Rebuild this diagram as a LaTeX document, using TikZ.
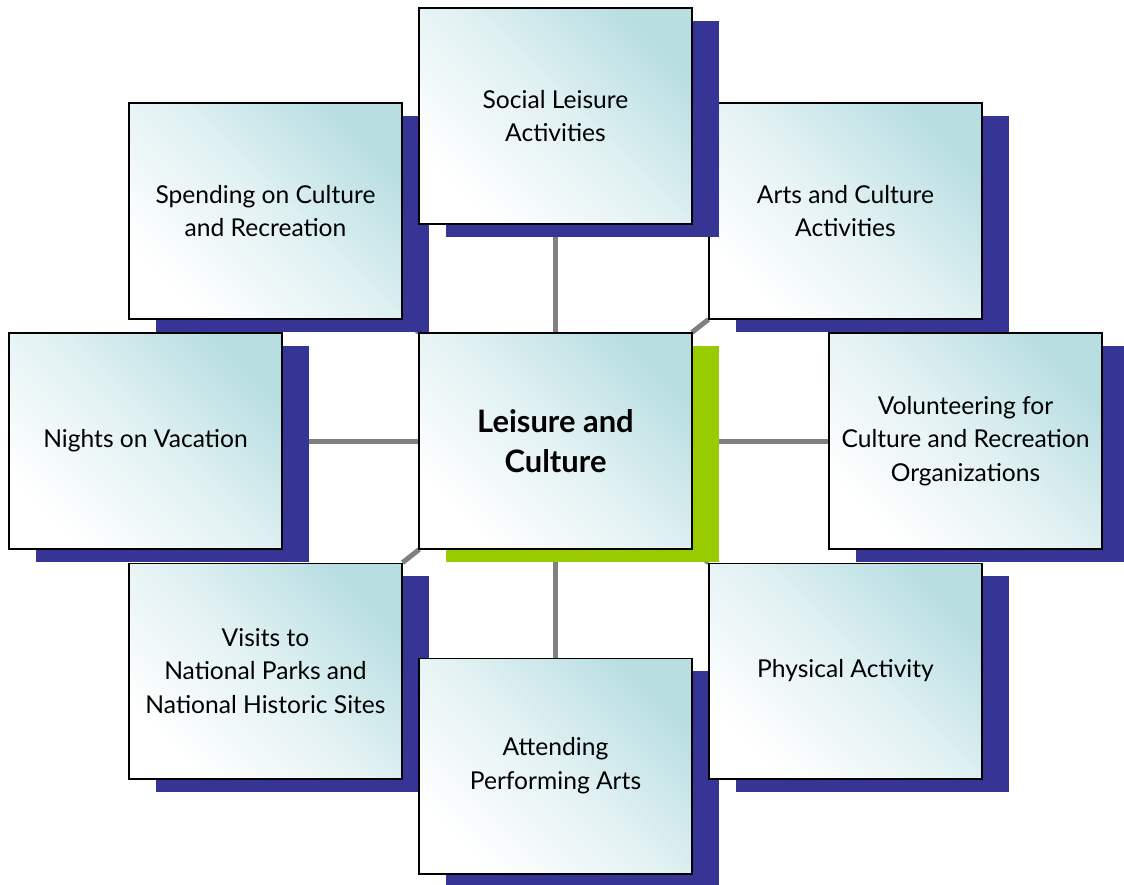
\documentclass[tikz,border=0pt]{standalone}
\usepackage{fontspec}
\setmainfont{Lato}
\usetikzlibrary{shadows,backgrounds}
\definecolor{boxteal}{HTML}{B8DEE2}
\definecolor{shadowblue}{HTML}{363596}
\definecolor{hubgreen}{HTML}{99CC00}
\definecolor{linkgray}{HTML}{808080}

\begin{document}
\begin{tikzpicture}[x=0.025cm, y=-0.025cm,
    card/.style={draw=black, line width=1.4pt, top color=boxteal, bottom color=white,
                 middle color=boxteal!40, shading angle=-45,
                 minimum width=6.8cm, minimum height=5.375cm,
                 inner sep=2pt, align=center},
    topic/.style={card, font=\fontsize{17.5}{24}\selectfont,
                  drop shadow={shadow xshift=0.675cm, shadow yshift=-0.325cm,
                               fill=shadowblue, opacity=1}},
    hub/.style={card, font=\fontsize{22}{28}\selectfont\bfseries,
                drop shadow={shadow xshift=0.675cm, shadow yshift=-0.325cm,
                             fill=hubgreen, opacity=1}},
    link/.style={linkgray, line width=0.125cm}]
    \useasboundingbox (0,0) rectangle (1124,884);

    \node[topic] (spend) at (265.5,211) {Spending on Culture\\and Recreation};
    \node[topic] (arts) at (845.5,211) {Arts and Culture\\Activities};
    \node[topic] (social) at (555.5,116) {Social Leisure\\Activities};
    \node[topic] (nights) at (145.5,441) {Nights on Vacation};
    \node[hub] (hub) at (555.5,441) {Leisure and\\Culture};
    \node[topic] (volunteer) at (965.5,441) {Volunteering for\\Culture and Recreation\\Organizations};
    \node[topic] (visits) at (265.5,671) {Visits to\\National Parks and\\National Historic Sites};
    \node[topic] (attend) at (555.5,766) {Attending\\Performing Arts};
    \node[topic] (physical) at (845.5,671) {Physical Activity};

    % spokes sit under the cards and their shadows
    \begin{scope}[on background layer]
        \foreach \t in {spend,social,arts,nights,volunteer,visits,attend,physical}
            \draw[link] (hub) -- (\t);
    \end{scope}
\end{tikzpicture}
\end{document}
